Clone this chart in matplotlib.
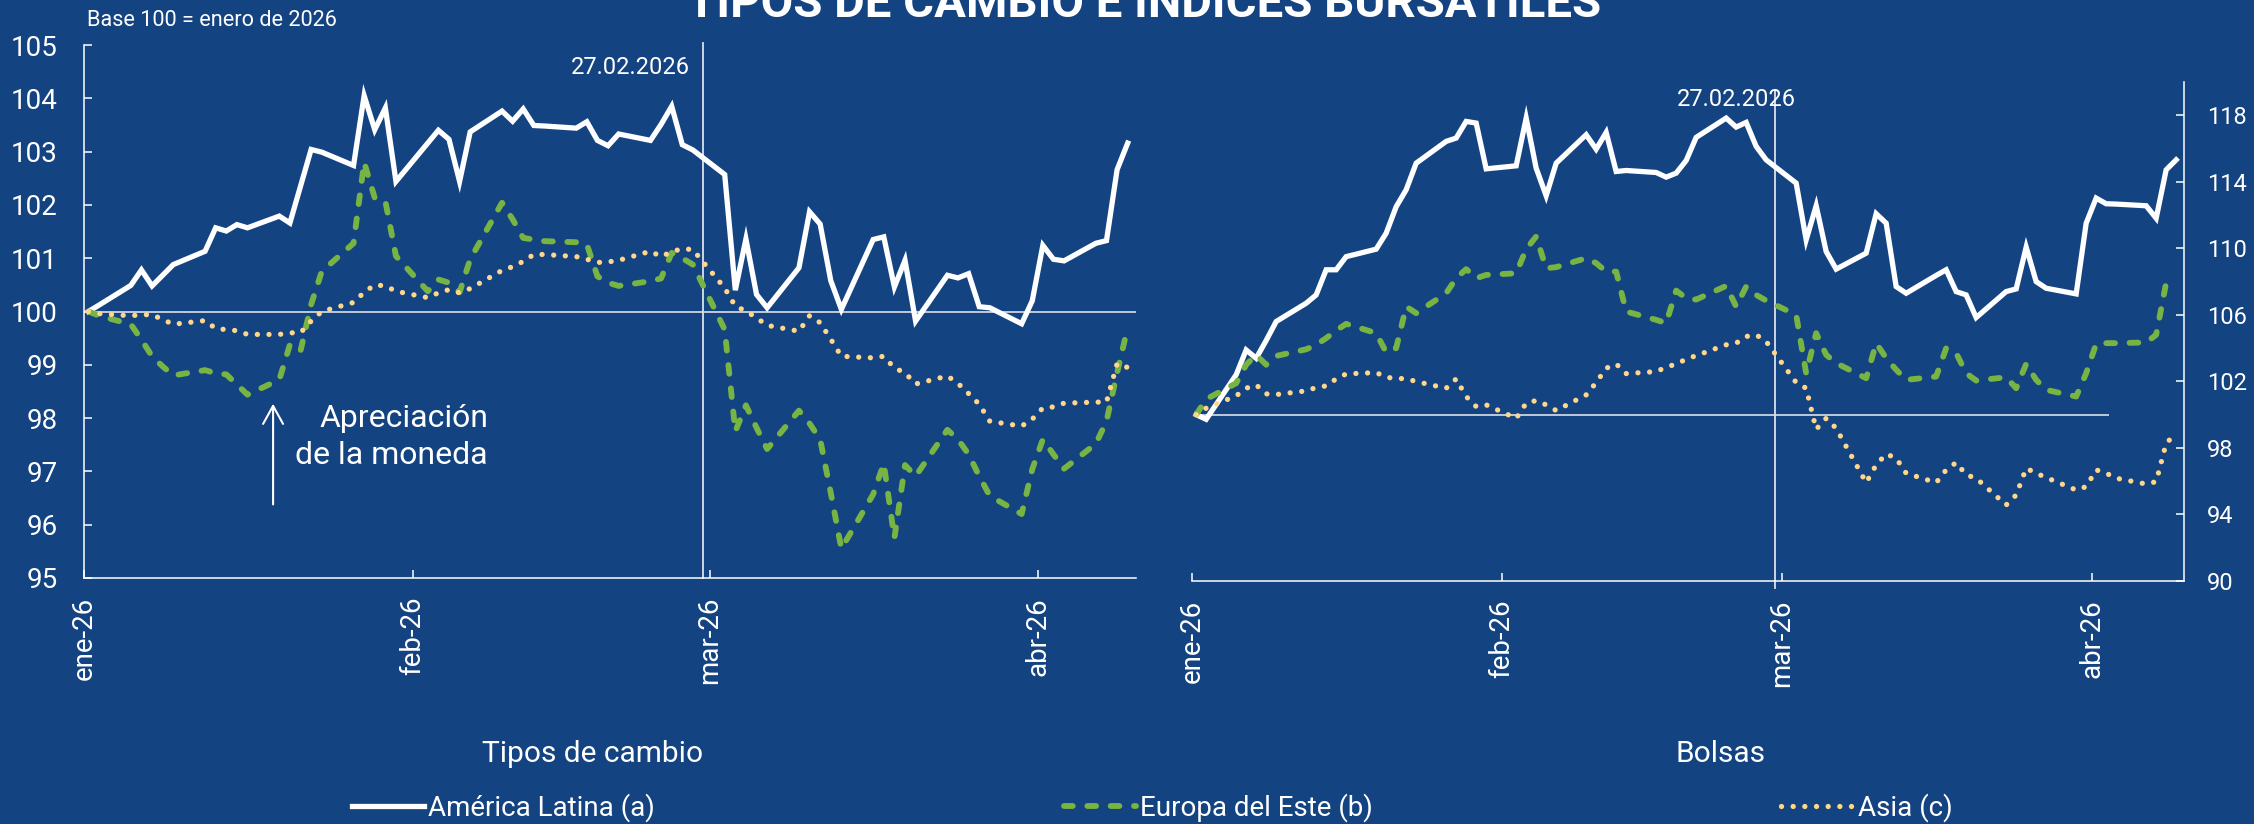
import matplotlib
matplotlib.use("Agg")
import matplotlib.pyplot as plt
import pandas as pd
from matplotlib.lines import Line2D

plt.rcParams['font.family'] = ['Roboto', 'DejaVu Sans']

# ---------------- data ----------------
START = "2026-01-01"
END = "2026-04-09"
dates = pd.bdate_range(START, END)

# Tipos de cambio (base 100 = enero 2026)
tc_latam = [100.00, 100.12, 100.49, 100.78, 100.48, 100.68, 100.88, 101.13, 101.57, 101.51,
            101.63, 101.57, 101.79, 101.66, 102.35, 103.04, 102.99, 102.74, 104.05, 103.41,
            103.82, 102.44, 103.16, 103.40, 103.23, 102.44, 103.37, 103.76, 103.57, 103.80,
            103.49, 103.48, 103.44, 103.56, 103.21, 103.11, 103.33, 103.21, 103.51, 103.85,
            103.13, 103.03, 102.57, 100.40, 101.36, 100.32, 100.07, 100.82, 101.87, 101.64,
            100.58, 100.04, 101.35, 101.40, 100.46, 100.96, 99.82, 100.68, 100.63, 100.71,
            100.09, 100.07, 99.77, 100.20, 101.24, 100.98, 100.95, 101.28, 101.33, 102.66,
            103.16]
tc_eur = [100.00, 99.92, 99.76, 99.47, 99.16, 98.97, 98.80, 98.90, 98.84, 98.82,
          98.63, 98.44, 98.72, 99.38, 99.26, 100.13, 100.75, 101.28, 102.80, 102.13,
          102.07, 101.04, 100.38, 100.60, 100.54, 100.36, 100.98, 102.04, 101.73, 101.38,
          101.35, 101.32, 101.30, 101.26, 100.66, 100.54, 100.48, 100.57, 100.62, 101.10,
          101.00, 100.88, 99.66, 97.75, 98.24, 97.82, 97.42, 98.14, 97.90, 97.60,
          96.60, 95.55, 96.57, 97.15, 95.75, 97.12, 96.91, 97.78, 97.60, 97.32,
          96.91, 96.54, 96.20, 97.04, 97.60, 97.32, 97.05, 97.52, 97.94, 98.85,
          99.70]
tc_asia = [100.00, 99.96, 99.92, 99.94, 99.94, 99.85, 99.76, 99.83, 99.68, 99.66,
           99.64, 99.57, 99.57, 99.60, 99.60, 99.82, 100.00, 100.17, 100.36, 100.50,
           100.48, 100.38, 100.26, 100.35, 100.41, 100.35, 100.43, 100.77, 100.84, 100.94,
           101.07, 101.07, 101.03, 100.98, 100.92, 100.93, 100.96, 101.13, 101.03, 101.12,
           101.18, 101.16, 100.44, 100.10, 100.01, 99.88, 99.74, 99.63, 99.92, 99.79,
           99.48, 99.16, 99.13, 99.16, 98.94, 98.85, 98.64, 98.79, 98.65, 98.46,
           98.26, 97.94, 97.85, 97.98, 98.19, 98.21, 98.28, 98.30, 98.30, 99.02,
           98.95]

# Bolsas (base 100 = enero 2026)
bo_latam = [100.00, 99.72, 102.40, 103.89, 103.39, 104.46, 105.60, 106.70, 107.20, 108.71,
            108.71, 109.50, 109.95, 110.91, 112.50, 113.52, 115.12, 116.43, 116.63, 117.63,
            117.53, 114.78, 114.96, 117.83, 114.82, 113.16, 115.12, 116.83, 115.96, 116.97,
            114.62, 114.68, 114.56, 114.28, 114.52, 115.28, 116.67, 117.83, 117.29, 117.57,
            116.13, 115.32, 113.92, 110.51, 112.56, 109.81, 108.75, 109.71, 112.08, 111.51,
            107.70, 107.30, 108.37, 108.71, 107.40, 107.20, 105.84, 107.40, 107.56, 110.07,
            108.00, 107.60, 107.26, 111.51, 113.02, 112.68, 112.66, 112.56, 111.81, 114.72,
            115.32]
bo_eur = [100.00, 100.93, 101.89, 103.00, 103.60, 103.00, 103.53, 103.93, 104.20, 104.60,
          105.06, 105.46, 104.90, 103.75, 104.00, 106.50, 106.10, 107.30, 108.20, 108.75,
          108.20, 108.40, 108.50, 109.95, 110.71, 108.80, 108.87, 109.41, 109.11, 108.60,
          108.60, 106.20, 105.70, 105.50, 107.46, 107.00, 106.92, 107.74, 106.50, 107.70,
          107.20, 106.86, 106.00, 102.49, 104.90, 103.60, 103.10, 102.19, 104.30, 103.40,
          102.70, 102.09, 102.29, 104.00, 103.70, 102.49, 102.05, 102.25, 101.59, 103.05,
          102.09, 101.49, 101.09, 102.49, 104.26, 104.30, 104.30, 104.34, 104.80, 107.94,
          107.70]
bo_asia = [100.00, 100.39, 101.13, 101.59, 101.79, 101.25, 101.21, 101.43, 101.63, 101.73,
           102.15, 102.45, 102.53, 102.25, 102.17, 102.17, 101.99, 101.59, 102.15, 101.09,
           100.49, 100.59, 99.78, 100.69, 100.85, 100.59, 100.25, 101.19, 101.93, 102.79,
           103.05, 102.47, 102.59, 102.85, 103.05, 103.33, 103.55, 104.20, 104.30, 104.70,
           104.80, 104.40, 101.93, 101.59, 99.12, 99.78, 99.18, 95.91, 96.98, 97.64,
           97.38, 96.48, 95.91, 96.68, 97.12, 96.38, 96.18, 94.57, 95.17, 96.78,
           96.48, 96.22, 95.47, 95.67, 96.68, 96.48, 96.18, 95.83, 95.97, 98.28,
           98.88]

series_labels = ["América Latina (a)", "Europa del Este (b)", "Asia (c)"]
xtick_dates = ["2026-01-01", "2026-02-01", "2026-03-01", "2026-04-01"]
xtick_labels = ["ene-26", "feb-26", "mar-26", "abr-26"]
left_yticks = list(range(95, 106))
right_yticks = [90, 94, 98, 102, 106, 110, 114, 118]
event_label = "27.02.2026"

# ---------------- style ----------------
BG = "#144382"
WHITE = "#FFFFFF"
GREEN = "#78B443"
ASIA = "#FFD68A"
REF = "#DCE1EA"

W, H = 2254, 824
fig = plt.figure(figsize=(W / 100, H / 100), dpi=100, facecolor=BG)

x = dates + pd.Timedelta(hours=10)
x0 = pd.Timestamp("2026-01-01")
x1 = x0 + pd.Timedelta(days=99.2)
vline_x = pd.Timestamp("2026-02-28 08:00")

ax1 = fig.add_axes([84 / W, 1 - 578 / H, (1136 - 84) / W, 533 / H])
ax2 = fig.add_axes([1192 / W, 1 - 581 / H, (2184 - 1192) / W, 499 / H])

styles = [
    dict(color=WHITE, lw=3.8, solid_joinstyle="miter"),
    dict(color=GREEN, lw=4.2, dashes=(1.5, 2.5), dash_capstyle="round"),
    dict(color=ASIA, lw=3.8, dashes=(0.01, 2.2), dash_capstyle="round"),
]

for ax in (ax1, ax2):
    ax.set_facecolor(BG)
    ax.set_xlim(x0, x1)
    for s in ax.spines.values():
        s.set_color(WHITE)
        s.set_linewidth(1.1)
    ax.spines["top"].set_visible(False)
    ax.set_xticks(pd.to_datetime(xtick_dates))
    ax.set_xticklabels(xtick_labels, rotation=90)
    ax.tick_params(axis="x", direction="in", length=6, width=1.1, colors=WHITE,
                   labelsize=20, pad=13.5)

# ---- left panel: tipos de cambio ----
ax1.spines["right"].set_visible(False)
ax1.set_ylim(95, 105)
ax1.set_yticks(left_yticks)
ax1.tick_params(axis="y", direction="in", length=6, width=1.1, colors=WHITE,
                labelsize=20, pad=19)
ax1.axhline(100, color=REF, lw=1.2, zorder=1)
ax1.axvline(vline_x, ymin=0, ymax=1.004, color=REF, lw=1.3, zorder=1, clip_on=False)
lines = []
for vals, st in zip([tc_latam, tc_eur, tc_asia], styles):
    l, = ax1.plot(x, vals, zorder=3, **st)
    lines.append(l)
ax1.text(x0 + pd.Timedelta(days=57.1), 104.45, event_label, color=WHITE, fontsize=17,
         ha="right", va="baseline")
arrow_x = x0 + pd.Timedelta(days=17.83)
ax1.annotate("", xy=(arrow_x, 98.27), xytext=(arrow_x, 96.38),
             arrowprops=dict(arrowstyle="->,head_length=1.3,head_width=0.72",
                             color=WHITE, lw=1.5, shrinkA=0, shrinkB=0))
tx = x0 + pd.Timedelta(days=38.1)
ax1.text(tx, 97.84, "Apreciación", color=WHITE, fontsize=23, ha="right", va="baseline")
ax1.text(tx, 97.13, "de la moneda", color=WHITE, fontsize=23, ha="right", va="baseline")

# ---- right panel: bolsas ----
ax2.spines["left"].set_visible(False)
ax2.set_ylim(90, 120)
ax2.yaxis.tick_right()
ax2.set_yticks(right_yticks)
ax2.tick_params(axis="y", direction="in", length=6, width=1.1, colors=WHITE,
                labelsize=17, pad=16.5, left=False, right=True)
ax2.hlines(100, x[0], pd.Timestamp("2026-04-02 16:00"), color=REF, lw=1.2, zorder=1)
ax2.axvline(vline_x, ymin=-0.014, ymax=0.984, color=REF, lw=1.3, zorder=1, clip_on=False)
for vals, st in zip([bo_latam, bo_eur, bo_asia], styles):
    ax2.plot(x, vals, zorder=3, **st)
ax2.text(x0 + pd.Timedelta(days=54.4), 118.56, event_label, color=WHITE, fontsize=17,
         ha="center", va="baseline")

# ---- figure texts ----
fig.text(1144 / W, 1 - 17 / H, "TIPOS DE CAMBIO E ÍNDICES BURSÁTILES", color=WHITE,
         fontsize=34, fontweight="bold", ha="center", va="baseline")
fig.text(87 / W, 1 - 26 / H, "Base 100 = enero de 2026", color=WHITE, fontsize=15.6,
         ha="left", va="baseline")
fig.text(593 / W, 1 - 762 / H, "Tipos de cambio", color=WHITE, fontsize=21.5,
         ha="center", va="baseline")
fig.text(1721 / W, 1 - 762 / H, "Bolsas", color=WHITE, fontsize=21.5,
         ha="center", va="baseline")

leg = fig.legend(lines, series_labels, loc="center left",
                 bbox_to_anchor=(352 / W, 1 - 808 / H), ncol=3, frameon=False,
                 fontsize=20, handlelength=2.6, handletextpad=0.15, columnspacing=14.7,
                 borderpad=0, borderaxespad=0, labelcolor=WHITE)

fig.savefig("out.png", dpi=100, facecolor=BG)
